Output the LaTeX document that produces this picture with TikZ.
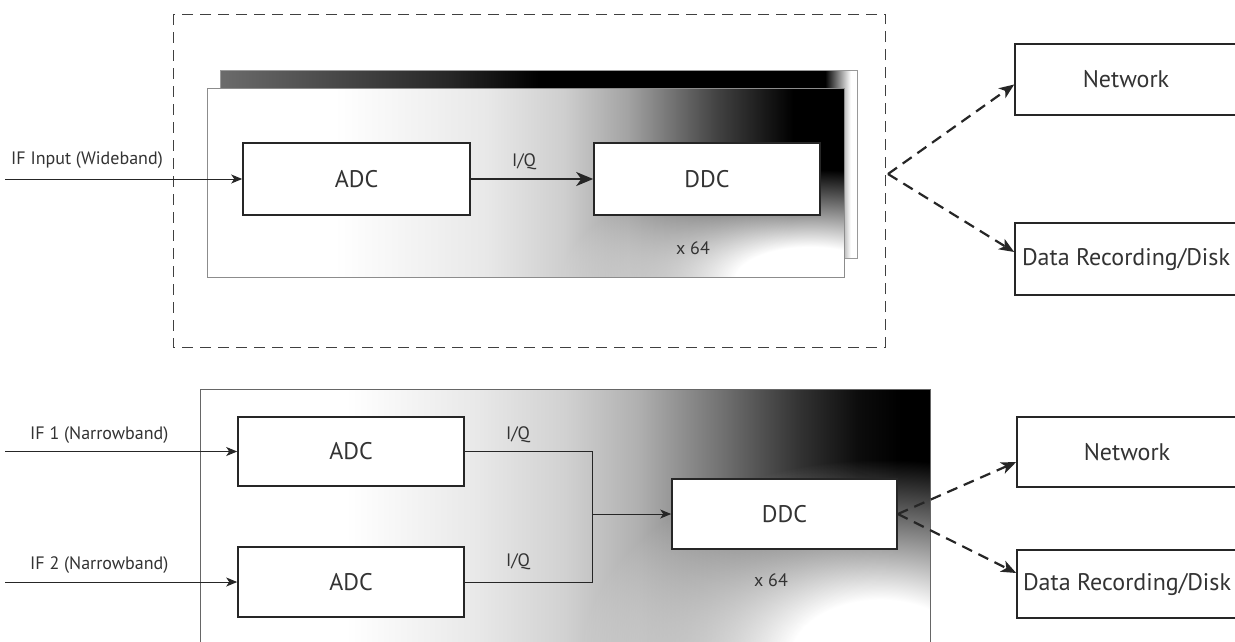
\documentclass[tikz,border=0pt]{standalone}
\usepackage{fontspec}
\setmainfont{PT Sans}
\usetikzlibrary{arrows.meta,fadings,calc}
\pgfdeclarehorizontalshading{topshade}{100bp}{color(0bp)=(white); color(35bp)=(white); color(47bp)=(black!9); color(53bp)=(black!19); color(58bp)=(black!36); color(65bp)=(black!74); color(71bp)=(black); color(100bp)=(black)}
\pgfdeclarehorizontalshading{botshade}{100bp}{color(0bp)=(white); color(35bp)=(white); color(44bp)=(black!9); color(50bp)=(black!18); color(55bp)=(black!31); color(60.6bp)=(black!55); color(66bp)=(black!80); color(70bp)=(black!95); color(73bp)=(black); color(100bp)=(black)}
\pgfdeclarehorizontalshading{backshade}{100bp}{color(0bp)=(black!58); color(25bp)=(black!58); color(43bp)=(black!85); color(50bp)=(black); color(72.5bp)=(black); color(74.5bp)=(white); color(100bp)=(black!4)}
\pgfdeclareradialshading{patchshade}{\pgfpointorigin}{color(0bp)=(white); color(7.5bp)=(white); color(25bp)=(black); color(50bp)=(black)}
\pgfdeclarefading{whitepatch}{\pgfuseshading{patchshade}}
\tikzset{
  box/.style={draw=black!85, line width=1.6pt, fill=white, inner sep=0pt,
    font=\fontsize{24}{28}\selectfont, text=black!80},
  lbl/.style={font=\fontsize{18}{21}\selectfont, text=black!80, inner sep=0pt},
  inarrow/.style={draw=black!85, line width=1pt, -{Stealth[length=11pt,width=9pt,inset=3pt]}},
  thickarrow/.style={draw=black!85, line width=2.2pt, -{Stealth[length=17pt,width=14pt,inset=5pt]}},
  dasharrow/.style={draw=black!85, line width=2.2pt, dash pattern=on 11pt off 7pt, -{Stealth[length=15pt,width=12pt,inset=4pt]}},
  wire/.style={draw=black!85, line width=1pt},
  frame/.style={draw=black!75, line width=1pt, dash pattern=on 11pt off 7pt},
}
\begin{document}
\begin{tikzpicture}[x=1pt,y=-1pt]
\clip (0,0) rectangle (1235,641);
\fill[white] (0,0) rectangle (1235,641);
% ---------- top part ----------
\draw[frame] (173,14) rectangle (885,347);
% back panel
\shade[shading=backshade] (220,70) rectangle (857,258);
\draw[black!40, line width=0.8pt] (220,70) rectangle (857,258);
% front panel
\begin{scope}
\clip (207,88) rectangle (844,277);
\shade[shading=topshade] (207,88) rectangle (844,277);
\fill[white, path fading=whitepatch, fit fading] (560,170) rectangle (1060,390);
\end{scope}
\draw[black!45, line width=0.8pt] (207,88) rectangle (844,277);

\node[box, minimum width=227pt, minimum height=72pt] (adc1) at (356.5,179) {ADC};
\node[box, minimum width=226pt, minimum height=72pt] (ddc1) at (707,179) {DDC};
\node[lbl] (iq1) at (524,162) {I/Q};
\node[lbl] (x641) at (693,248) {x 64};
\node[lbl, anchor=west] (in1) at (11,160) {IF Input (Wideband)};
\coordinate (in1s) at (5,179);
\draw[inarrow] (in1s) -- (adc1.west);
\draw[thickarrow] (adc1.east) -- (ddc1.west);

\node[box, minimum width=222pt, minimum height=71pt] (net1) at (1126,79.5) {Network};
\node[box, minimum width=222pt, minimum height=72pt] (dat1) at (1126,259) {Data Recording/Disk};
\coordinate (split1) at (888,174);
\draw[dasharrow] (split1) -- ([yshift=-5pt]net1.west);
\draw[dasharrow] (split1) -- ([yshift=7pt]dat1.west);

% ---------- bottom part ----------
\begin{scope}
\clip (200,389) rectangle (930,660);
\shade[shading=botshade] (200,389) rectangle (930,660);
\fill[white, path fading=whitepatch, fit fading] (580,460) rectangle (1180,860);
\end{scope}
\draw[black!60, line width=0.8pt] (200,660) -- (200,389) -- (930,389) -- (930,660);

\node[box, minimum width=226pt, minimum height=69pt] (adc2) at (351,451.5) {ADC};
\node[box, minimum width=226pt, minimum height=70pt] (adc3) at (351,582) {ADC};
\node[box, minimum width=225pt, minimum height=70pt] (ddc2) at (784.5,514) {DDC};
\node[lbl] (iq2) at (518,435) {I/Q};
\node[lbl] (iq3) at (518,562) {I/Q};
\node[lbl] (x642) at (771,580) {x 64};
\node[lbl, anchor=west] (in2) at (30,435) {IF 1 (Narrowband)};
\node[lbl, anchor=west] (in3) at (30,565) {IF 2 (Narrowband)};
\coordinate (in2s) at (5,451.5);
\coordinate (in3s) at (5,582);
\draw[inarrow] (in2s) -- (adc2.west);
\draw[inarrow] (in3s) -- (adc3.west);
\coordinate (join) at (592,514);
\draw[wire] (adc2.east) -| (join);
\draw[wire] (adc3.east) -| (join);
\draw[inarrow] (join) -- (ddc2.west);

\node[box, minimum width=220pt, minimum height=70pt] (net2) at (1127,452) {Network};
\node[box, minimum width=220pt, minimum height=68pt] (dat2) at (1127,584) {Data Recording/Disk};
\draw[dasharrow] (ddc2.east) -- ([yshift=-10pt]net2.west);
\draw[dasharrow] (ddc2.east) -- ([yshift=11pt]dat2.west);
\end{tikzpicture}
\end{document}
